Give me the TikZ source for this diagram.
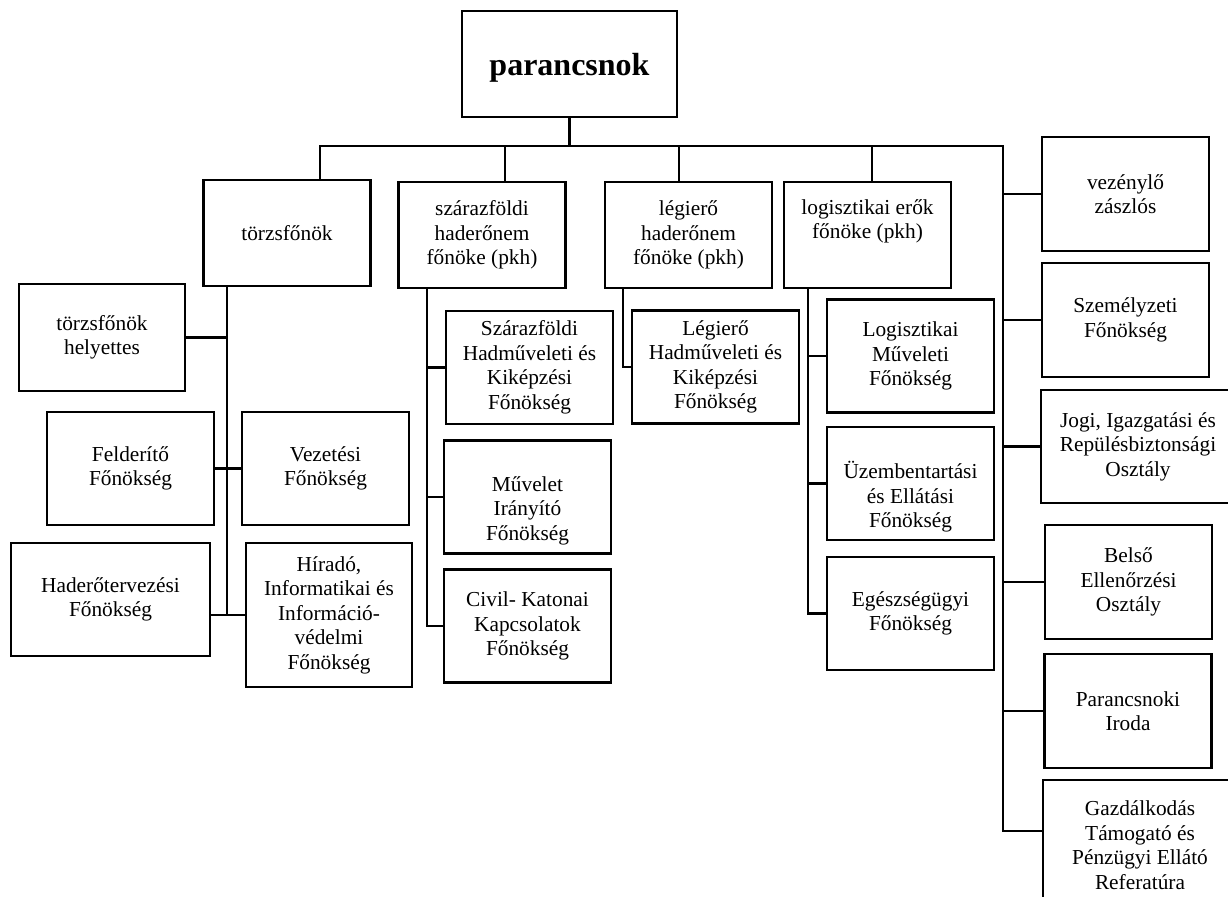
\documentclass[tikz,border=0pt]{standalone}
\usepackage{fontspec}
\setmainfont{Liberation Serif}
\usepackage{tikz}
\def\pu{0.5625pt}
\tikzset{
  box/.style={draw=black, line width=1.4pt, fill=white, align=center, inner sep=0pt,
    font=\fontsize{12}{13.8}\selectfont, minimum width=167*\pu, minimum height=113*\pu},
  boss/.style={box, font=\fontsize{18}{20}\selectfont\bfseries, minimum width=215*\pu, minimum height=106*\pu},
  head/.style={box, minimum height=106*\pu},
  link/.style={draw=black, line width=1.25pt, line cap=rect, line join=miter},
}
\begin{document}
\begin{tikzpicture}[x=\pu, y=-\pu]
  \useasboundingbox (0,0) rectangle (1228,896);
  \clip (0,0) rectangle (1228,896);

  \coordinate (busL) at (320,146);
  \coordinate (busR) at (1003,146);
  \coordinate (d2) at (505,146);
  \coordinate (d3) at (679,146);
  \coordinate (d4) at (872,146);
  \coordinate (jobbveg) at (1003,831);
  \coordinate (tk) at (227,615);
  \coordinate (sk) at (427,300);
  \coordinate (lk) at (623,300);
  \coordinate (gk) at (808,300);

  \node[boss] (parancsnok) at (569.5,64) {\raisebox{-6.5pt}[0pt][0pt]{parancsnok}};

  \node[head] (torzs) at (287,233) {törzsfőnök};
  \node[head] (szaraz) at (482,235) {szárazföldi\\haderőnem\\főnöke (pkh)};
  \node[head] (legi) at (688.5,235) {légierő\\haderőnem\\főnöke (pkh)};
  \node[head] (logi) at (867.5,235) {logisztikai erők\\főnöke (pkh)\\\strut};

  \node[box, minimum width=166*\pu, minimum height=107*\pu] (helyettes) at (102,337.5) {törzsfőnök\\helyettes};
  \node[box] (felderito) at (130.5,468.5) {Felderítő\\Főnökség};
  \node[box] (vezetesi) at (325.5,468.5) {Vezetési\\Főnökség};
  \node[box, minimum width=199*\pu] (hadero) at (110.5,599.5) {Haderőtervezési\\Főnökség};
  \node[box, minimum width=166*\pu, minimum height=144*\pu] (hirado) at (329,615) {Híradó,\\Informatikai és\\Információ-\\védelmi\\Főnökség};

  \node[box] (szhad) at (529.5,367.5) {Szárazföldi\\Hadműveleti és\\Kiképzési\\Főnökség};
  \node[box] (muvelet) at (527.5,497) {\strut\\Művelet\\Irányító\\Főnökség};
  \node[box] (civil) at (527.5,626) {Civil- Katonai\\Kapcsolatok\\Főnökség};

  \node[box] (lhad) at (715.5,367) {Légierő\\Hadműveleti és\\Kiképzési\\Főnökség};

  \node[box] (lmuv) at (910.5,356) {Logisztikai\\Műveleti\\Főnökség};
  \node[box] (uzem) at (910.5,483.5) {\strut\\Üzembentartási\\és Ellátási\\Főnökség};
  \node[box] (egesz) at (910.5,613.5) {Egészségügyi\\Főnökség};

  \node[box, minimum height=114*\pu] (vezenylo) at (1125.5,194) {vezénylő\\zászlós};
  \node[box, minimum height=114*\pu] (szemely) at (1125.5,320) {Személyzeti\\Főnökség};
  \node[box, minimum width=194*\pu] (jogi) at (1138,446.5) {Jogi, Igazgatási és\\Repülésbiztonsági\\Osztály};
  \node[box, minimum height=114*\pu] (belso) at (1128.5,582) {Belső\\Ellenőrzési\\Osztály};
  \node[box, minimum height=114*\pu] (iroda) at (1128,711) {Parancsnoki\\Iroda};
  \node[box, minimum width=194*\pu, minimum height=130*\pu] (gazd) at (1140,845) {Gazdálkodás\\Támogató és\\Pénzügyi Ellátó\\Referatúra};

  % top level
  \draw[link] (parancsnok.south) -- (parancsnok.south |- busL);
  \draw[link] (busL |- torzs.north) -- (busL) -- (busR) -- (jobbveg) -- (jobbveg -| gazd.west);
  \draw[link] (d2) -- (d2 |- szaraz.north);
  \draw[link] (d3) -- (d3 |- legi.north);
  \draw[link] (d4) -- (d4 |- logi.north);
  \foreach \n in {vezenylo,szemely,jogi,belso,iroda}
    \draw[link] (\n.west) -- (\n.west -| busR);

  % törzsfőnök
  \draw[link] (tk |- torzs.south) -- (tk);
  \draw[link] (helyettes.east) -- (helyettes.east -| tk);
  \draw[link] (felderito.east) -- (vezetesi.west);
  \draw[link] (hirado.west -| hadero.east) -- (hirado.west);

  % szárazföldi
  \draw[link] (sk |- szaraz.south) -- (sk |- civil.west);
  \foreach \n in {szhad,muvelet,civil}
    \draw[link] (\n.west) -- (\n.west -| sk);

  % légierő
  \draw[link] (lk |- legi.south) |- (lhad.west);

  % logisztika
  \draw[link] (gk |- logi.south) -- (gk |- egesz.west);
  \foreach \n in {lmuv,uzem,egesz}
    \draw[link] (\n.west) -- (\n.west -| gk);
\end{tikzpicture}
\end{document}
